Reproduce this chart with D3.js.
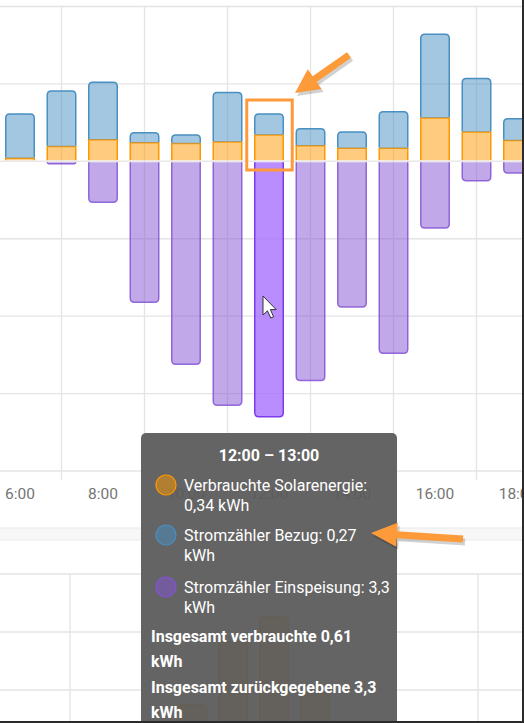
<!DOCTYPE html>
<html>
<head>
<meta charset="utf-8">
<script src="https://cdn.jsdelivr.net/npm/d3@7"></script>
<style>
  html, body { margin: 0; padding: 0; background: #fff; }
  svg { display: block; font-family: Roboto, "Noto Sans", sans-serif; }
</style>
</head>
<body>
<div data-viz="wrapper"></div>
<script>
// hourly energy, kWh
const hours = [6, 7, 8, 9, 10, 11, 12, 13, 14, 15, 16, 17, 18]
const solarUsed = [0.04, 0.19, 0.28, 0.24, 0.23, 0.25, 0.34, 0.20, 0.17, 0.17, 0.56, 0.38, 0.27]
const gridImport = [0.57, 0.72, 0.74, 0.13, 0.11, 0.64, 0.27, 0.22, 0.21, 0.47, 1.08, 0.69, 0.28]
const gridExport = [0, 0.03, 0.53, 1.82, 2.62, 3.15, 3.30, 2.83, 1.88, 2.48, 0.86, 0.25, 0.15]
const xTickLabels = ["6:00", "8:00", "10:00", "12:00", "14:00", "16:00", "18:00"]
const xTickHours = [6, 8, 10, 12, 14, 16, 18]
const gridHours = [5, 7, 9, 11, 13, 15, 17, 19]
const yTicks = [-4, -3, -2, -1, 0, 1, 2]

// second card, partly hidden by the tooltip
const lowerHours = [9, 10, 11, 12]
const lowerSolar = [0.74, 1.83, 2.26, 0.95]
const lowerYTicks = [1, 2, 3]
const lowerGridHours = [6, 16]

const hoveredHour = 12
const tooltipTitle = "12:00 – 13:00"
const tooltipItems = [
  { color: "#ff9800", lines: ["Verbrauchte Solarenergie:", "0,34 kWh"] },
  { color: "#488fc2", lines: ["Stromzähler Bezug: 0,27", "kWh"] },
  { color: "#8353d4", lines: ["Stromzähler Einspeisung: 3,3", "kWh"] },
]
const tooltipFooter = ["Insgesamt verbrauchte 0,61", "kWh", "Insgesamt zurückgegebene 3,3", "kWh"]

const colors = { solar: "#ff9800", grid: "#488fc2", ret: "#8353d4", retHover: "#7c3aed" }

const width = 524
const height = 723

const svg = d3.select("[data-viz='wrapper']").append("svg")
    .attr("width", width)
    .attr("height", height)

const x = d3.scaleLinear().domain([6, 18]).range([20, 518])
const y = d3.scaleLinear().domain([-4, 2]).range([471, 6.5])
const barW = 28.5
const r = 4

// **************************
// Gridlines of the upper chart
// **************************
const grid = svg.append("g")
grid.selectAll(".h").data(yTicks).join("line")
    .attr("x1", 0).attr("x2", width)
    .attr("y1", d => y(d)).attr("y2", d => y(d))
    .attr("stroke", "#e4e4e4").attr("stroke-width", 1.3)
grid.selectAll(".v").data(gridHours).join("line")
    .attr("x1", d => x(d)).attr("x2", d => x(d))
    .attr("y1", y(2)).attr("y2", y(-4) + 9)
    .attr("stroke", "#e4e4e4").attr("stroke-width", 1.3)

svg.append("g").selectAll("text").data(xTickHours).join("text")
    .attr("x", d => x(d)).attr("y", 499)
    .attr("text-anchor", "middle")
    .attr("font-size", 15.5)
    .attr("fill", "#757575")
    .text((d, i) => xTickLabels[i])

// **************************
// Bar segment paths: fill closed, stroke open at the base
// **************************
function segUp(cx, y0, y1, round) {
  const l = cx - barW / 2, rr = cx + barW / 2
  const rad = round ? Math.min(r, (y0 - y1)) : 0
  return `M${l},${y0}V${y1 + rad}Q${l},${y1} ${l + rad},${y1}H${rr - rad}Q${rr},${y1} ${rr},${y1 + rad}V${y0}`
}
function segDown(cx, y0, y1) {
  const l = cx - barW / 2, rr = cx + barW / 2
  const rad = Math.min(r, (y1 - y0))
  return `M${l},${y0}V${y1 - rad}Q${l},${y1} ${l + rad},${y1}H${rr - rad}Q${rr},${y1} ${rr},${y1 - rad}V${y0}`
}

const bars = svg.append("g")
hours.forEach((h, i) => {
  const cx = x(h)
  const base = y(0) - 1
  const ySolar = y(solarUsed[i])
  const yTop = y(solarUsed[i] + gridImport[i])
  // solar
  bars.append("path").attr("d", segUp(cx, base, ySolar, false) + "Z")
      .attr("fill", colors.solar).attr("fill-opacity", 0.5)
  bars.append("path").attr("d", segUp(cx, base, ySolar, false))
      .attr("fill", "none").attr("stroke", colors.solar).attr("stroke-width", 1.5)
  // grid import on top
  bars.append("path").attr("d", segUp(cx, ySolar, yTop, true) + "Z")
      .attr("fill", colors.grid).attr("fill-opacity", 0.5)
  bars.append("path").attr("d", segUp(cx, ySolar - 0.75, yTop, true))
      .attr("fill", "none").attr("stroke", colors.grid).attr("stroke-width", 1.5)
  // returned to grid
  if (gridExport[i] > 0) {
    const hov = h === hoveredHour
    const yb = y(-gridExport[i])
    const c = hov ? colors.retHover : colors.ret
    bars.append("path").attr("d", segDown(cx, y(0) + 1, yb) + "Z")
        .attr("fill", hov ? "#a970ff" : colors.ret).attr("fill-opacity", hov ? 0.8 : 0.5)
    bars.append("path").attr("d", segDown(cx, y(0) + 1, yb))
        .attr("fill", "none").attr("stroke", c).attr("stroke-width", 1.5)
        .attr("stroke-opacity", hov ? 1 : 0.85)
  }
})
// zero line drawn over the bars
svg.append("line")
    .attr("x1", 0).attr("x2", width).attr("y1", y(0)).attr("y2", y(0))
    .attr("stroke", "#e8e8e8").attr("stroke-width", 1.2)

// **************************
// Lower card
// **************************
svg.append("rect").attr("x", 0).attr("y", 528).attr("width", width).attr("height", 12)
    .attr("fill", "#f7f7f7")
svg.append("line").attr("x1", 0).attr("x2", width).attr("y1", 528).attr("y2", 528)
    .attr("stroke", "#e9e9e9")
svg.append("line").attr("x1", 0).attr("x2", width).attr("y1", 540).attr("y2", 540)
    .attr("stroke", "#e9e9e9")

const x2 = d3.scaleLinear().domain([6, 16]).range([70, 478])
const y2 = d3.scaleLinear().domain([0, 3]).range([748, 574])
const lower = svg.append("g")
lower.selectAll(".h").data(lowerYTicks).join("line")
    .attr("x1", 0).attr("x2", width)
    .attr("y1", d => y2(d)).attr("y2", d => y2(d))
    .attr("stroke", "#e4e4e4").attr("stroke-width", 1.3)
lower.selectAll(".v").data(lowerGridHours).join("line")
    .attr("x1", d => x2(d)).attr("x2", d => x2(d))
    .attr("y1", y2(3)).attr("y2", height)
    .attr("stroke", "#e4e4e4").attr("stroke-width", 1.3)
lowerHours.forEach((h, i) => {
  const cx = x2(h)
  const d = segUp(cx, y2(0), y2(lowerSolar[i]), true)
  lower.append("path").attr("d", d + "Z")
      .attr("fill", colors.solar).attr("fill-opacity", 0.5)
  lower.append("path").attr("d", d)
      .attr("fill", "none").attr("stroke", colors.solar).attr("stroke-width", 1.5)
})

// **************************
// Tooltip
// **************************
const tip = svg.append("g")
tip.append("rect")
    .attr("x", 141).attr("y", 433).attr("width", 256).attr("height", 320).attr("rx", 5)
    .attr("fill", "#5a5a5a").attr("fill-opacity", 0.94)
tip.append("text")
    .attr("x", 269).attr("y", 461)
    .attr("text-anchor", "middle")
    .attr("font-size", 16).attr("font-weight", 700).attr("fill", "#fff")
    .text(tooltipTitle)
const itemTops = [485, 535, 587]
tooltipItems.forEach((it, i) => {
  const cy = itemTops[i]
  tip.append("circle").attr("cx", 166).attr("cy", cy).attr("r", 10)
      .attr("fill", it.color).attr("fill-opacity", 0.5)
      .attr("stroke", it.color).attr("stroke-width", 1.2)
  it.lines.forEach((t, j) => {
    tip.append("text")
        .attr("x", 184).attr("y", cy + 6 + j * 19.5)
        .attr("font-size", 16).attr("fill", "#fff")
        .text(t)
  })
})
tooltipFooter.forEach((t, j) => {
  tip.append("text")
      .attr("x", 151).attr("y", 642 + j * 25.3)
      .attr("font-size", 16).attr("font-weight", 700).attr("fill", "#fff")
      .text(t)
})

// **************************
// Screenshot annotations: highlight box, arrows, cursor
// **************************
const boxX = x(hoveredHour) - barW / 2 - 8
svg.append("rect")
    .attr("x", boxX).attr("y", 100).attr("width", barW + 17).attr("height", 70)
    .attr("fill", "none").attr("stroke", "#ff9a3c").attr("stroke-width", 3)

function arrowPath(x0, y0, x1, y1, sw, hw, hl) {
  const a = Math.atan2(y1 - y0, x1 - x0)
  const len = Math.hypot(x1 - x0, y1 - y0)
  const pts = [[0, -sw / 2], [len - hl, -sw / 2], [len - hl, -hw / 2], [len, 0],
               [len - hl, hw / 2], [len - hl, sw / 2], [0, sw / 2]]
  return "M" + pts.map(([u, v]) => [
    x0 + u * Math.cos(a) - v * Math.sin(a),
    y0 + u * Math.sin(a) + v * Math.cos(a)
  ].join(",")).join("L") + "Z"
}
const arrows = [
  arrowPath(349, 55, 295, 93, 7, 24, 24),
  arrowPath(463, 539, 371, 533, 7, 24, 26),
]
arrows.forEach(d => {
  svg.append("path").attr("d", d).attr("transform", "translate(2,3)")
      .attr("fill", "#000").attr("fill-opacity", 0.18)
  svg.append("path").attr("d", d).attr("fill", "#fd9a3a")
})

svg.append("path")
    .attr("d", "M0,0V19L4.5,14.8L7.8,22L10.6,20.8L7.4,13.6L13.2,13.6Z")
    .attr("transform", "translate(263,296)")
    .attr("fill", "#fff").attr("stroke", "#333").attr("stroke-width", 1)

// screenshot frame
svg.append("rect").attr("x", 522).attr("y", 0).attr("width", 2).attr("height", height).attr("fill", "#2b2b2b")
svg.append("rect").attr("x", 0).attr("y", 721).attr("width", width).attr("height", 2).attr("fill", "#2b2b2b")
</script>
</body>
</html>
